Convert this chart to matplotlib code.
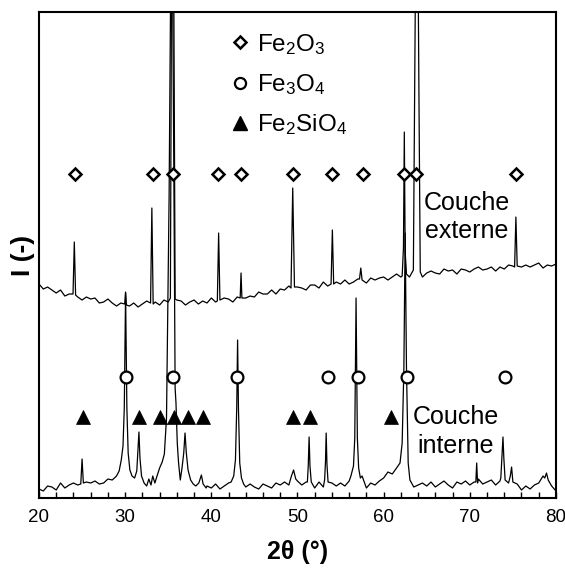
"""
XRD patterns of the two oxide layers (couche externe / couche interne).
Peak positions of Fe2O3, Fe3O4 and Fe2SiO4 are marked above the traces.
"""

import matplotlib

matplotlib.use("Agg")
import matplotlib.pyplot as plt
import numpy as np
from matplotlib.lines import Line2D
from matplotlib.ticker import MultipleLocator

plt.rcParams["font.family"] = ["Liberation Sans", "DejaVu Sans"]
plt.rcParams["mathtext.fontset"] = "custom"
plt.rcParams["mathtext.rm"] = "Liberation Sans"
plt.rcParams["mathtext.default"] = "regular"

# --- data (2theta in deg, intensity in arb. units) ---
grid_2theta = np.arange(20, 80.01, 0.5)

# background of the outer layer, one reading every 0.5 deg
ext_base = [
    214, 209, 211, 208, 205, 208, 202, 204, 205, 201,
    198, 201, 199, 200, 195, 196, 199, 195, 192, 195,
    195, 192, 195, 191, 194, 197, 194, 196, 193, 198,
    196, 194, 198, 197, 193, 196, 198, 194, 197, 195,
    200, 196, 196, 200, 199, 196, 201, 202, 200, 202,
    201, 206, 204, 204, 208, 204, 209, 208, 212, 207,
    211, 210, 208, 213, 213, 210, 216, 212, 214, 216,
    214, 218, 214, 216, 219, 216, 215, 220, 218, 220,
    221, 218, 221, 224, 221, 222, 221, 225, 225, 221,
    225, 227, 225, 224, 229, 227, 228, 224, 229, 228,
    226, 229, 231, 228, 229, 231, 227, 231, 229, 233,
    232, 228, 231, 233, 231, 233, 235, 230, 233, 232,
    234,
]

# peaks of the outer layer as (2theta, I) vertices
ext_peaks = [
    [(23.95, 204), (24.1, 256), (24.25, 203)],
    [(29.95, 194), (30.05, 206), (30.15, 193)],
    [(32.95, 195), (33.1, 290), (33.25, 194)],
    [(35.25, 200), (35.4, 560), (35.5, 700), (35.62, 560), (35.8, 199)],
    [(40.7, 197), (40.85, 265), (41.0, 198)],
    [(43.35, 200), (43.45, 225), (43.55, 200)],
    [(49.25, 210), (49.45, 310), (49.65, 211)],
    [(53.9, 214), (54.05, 268), (54.2, 214)],
    [(57.2, 219), (57.35, 230), (57.5, 218)],
    [(62.15, 222), (62.3, 250), (62.4, 366), (62.5, 245), (62.65, 224)],
    [(63.45, 228), (63.6, 400), (63.85, 720), (64.1, 400), (64.25, 226)],
    [(75.2, 231), (75.35, 281), (75.5, 232)],
]

# background of the inner layer, one reading every 0.5 deg
int_base = [
    9, 7, 12, 11, 8, 15, 10, 13, 15, 13,
    11, 16, 15, 17, 14, 15, 19, 18, 22, 26,
    30, 22, 20, 18, 15, 14, 16, 18, 22, 30,
    40, 30, 25, 20, 18, 16, 14, 12, 13, 12,
    10, 14, 9, 12, 15, 16, 20, 16, 11, 14,
    11, 9, 14, 12, 10, 15, 13, 16, 13, 20,
    17, 13, 16, 12, 10, 16, 11, 14, 15, 12,
    15, 12, 17, 25, 30, 22, 10, 15, 13, 17,
    20, 26, 24, 30, 33, 30, 18, 11, 13, 15,
    12, 16, 11, 14, 17, 13, 10, 16, 14, 17,
    13, 16, 19, 14, 16, 18, 13, 17, 20, 15,
    11, 14, 8, 12, 9, 13, 15, 22, 23, 12,
    7,
]

# peaks of the inner layer as (2theta, I) vertices
int_peaks = [
    [(24.85, 14), (25.0, 39), (25.15, 15)],
    [(29.0, 22), (29.3, 27), (29.55, 38), (29.75, 52), (29.9, 90), (30.05, 205),
     (30.2, 90), (30.35, 45), (30.55, 28), (30.8, 22), (31.1, 20), (31.35, 27),
     (31.5, 50), (31.6, 66), (31.72, 40), (31.9, 22), (32.2, 15), (32.5, 12),
     (32.75, 19), (33.0, 13), (33.2, 22), (33.45, 15), (33.7, 22), (34.0, 30),
     (34.3, 36), (34.55, 44), (34.8, 80), (35.1, 300), (35.4, 650), (35.65, 330),
     (35.8, 110), (35.9, 95), (36.05, 55), (36.2, 35), (36.4, 18), (36.6, 30),
     (36.8, 45), (36.95, 65), (37.1, 45), (37.3, 28), (37.6, 18), (37.9, 14),
     (38.2, 12), (38.55, 15), (38.85, 23), (39.05, 14), (39.4, 10)],
    [(42.3, 16), (42.6, 22), (42.8, 38), (42.95, 90), (43.05, 158), (43.15, 90),
     (43.3, 35), (43.5, 20), (43.75, 14)],
    [(49.3, 22), (49.55, 28), (49.8, 19)],
    [(51.15, 16), (51.25, 32), (51.35, 61), (51.45, 32), (51.6, 16)],
    [(53.15, 18), (53.25, 36), (53.33, 65), (53.42, 34), (53.55, 16)],
    [(56.2, 22), (56.5, 32), (56.65, 60), (56.8, 200), (56.95, 60), (57.1, 30), (57.3, 20)],
    [(61.9, 35), (62.15, 55), (62.35, 130), (62.5, 265), (62.65, 130), (62.85, 35), (63.05, 18)],
    [(70.7, 16), (70.8, 35), (70.9, 15)],
    [(73.6, 20), (73.75, 45), (73.85, 61), (73.95, 40), (74.1, 18)],
    [(74.7, 22), (74.85, 31), (75.0, 16)],
    [(78.7, 20), (78.9, 25), (79.1, 18)],
]

# reference peak positions of each phase
fe2o3_pos = [24.2, 33.2, 35.5, 40.8, 43.5, 49.5, 54.0, 57.6, 62.4, 63.8, 75.4]
fe3o4_pos = [30.1, 35.5, 43.0, 53.6, 57.0, 62.7, 74.1]
fe2sio4_pos = [25.1, 31.6, 34.0, 35.7, 37.3, 39.0, 49.5, 51.4, 60.9]

# heights at which the phase markers are drawn
FE2O3_LEVEL = 324
FE3O4_LEVEL = 121
FE2SIO4_LEVEL = 81


def build_trace(base, peaks):
    """Merge background readings with peak vertices into one polyline."""
    x = grid_2theta
    y = np.asarray(base, dtype=float)
    keep = np.ones_like(x, dtype=bool)
    px, py = [], []
    for pk in peaks:
        xs, ys = zip(*pk)
        keep &= (x < min(xs)) | (x > max(xs))
        px.extend(xs)
        py.extend(ys)
    tx = np.concatenate([x[keep], px])
    ty = np.concatenate([y[keep], py])
    order = np.argsort(tx)
    return tx[order], ty[order]


ext_x, ext_y = build_trace(ext_base, ext_peaks)
int_x, int_y = build_trace(int_base, int_peaks)

fig = plt.figure(figsize=(5.65, 5.70), dpi=100)
ax = fig.add_axes([0.069, 0.1263, 0.915, 0.8526])

ax.plot(int_x, int_y, color="black", lw=0.9, zorder=2)
ax.plot(ext_x, ext_y, color="black", lw=0.9, zorder=2)

ax.plot(fe2o3_pos, [FE2O3_LEVEL] * len(fe2o3_pos), ls="none", marker="D", ms=6,
        mfc="white", mec="black", mew=1.8, zorder=3)
ax.plot(fe3o4_pos, [FE3O4_LEVEL] * len(fe3o4_pos), ls="none", marker="o", ms=8.5,
        mfc="white", mec="black", mew=1.6, zorder=3)
ax.plot(fe2sio4_pos, [FE2SIO4_LEVEL] * len(fe2sio4_pos), ls="none", marker="^", ms=10,
        mfc="black", mec="black", mew=0.5, zorder=3)

# layer labels
ax.text(69.67, 288, "Couche", ha="center", va="baseline", fontsize=18)
ax.text(69.67, 260, "externe", ha="center", va="baseline", fontsize=18)
ax.text(68.37, 74, "Couche", ha="center", va="baseline", fontsize=18)
ax.text(68.37, 45, "interne", ha="center", va="baseline", fontsize=18)

handles = [
    Line2D([], [], ls="none", marker="D", ms=6, mfc="white", mec="black", mew=1.8,
           label="Fe$_2$O$_3$"),
    Line2D([], [], ls="none", marker="o", ms=8, mfc="white", mec="black", mew=1.6,
           label="Fe$_3$O$_4$"),
    Line2D([], [], ls="none", marker="^", ms=9.5, mfc="black", mec="black",
           label="Fe$_2$SiO$_4$"),
]
ax.legend(handles=handles, loc="upper left", bbox_to_anchor=(0.365, 0.959),
          frameon=False, fontsize=17.5, handlelength=1.0, handletextpad=0.2,
          labelspacing=0.63, borderpad=0, borderaxespad=0)

ax.set_xlim(20, 80)
ax.set_ylim(0, 486)
ax.set_xticks(range(20, 81, 10))
ax.xaxis.set_minor_locator(MultipleLocator(2))
ax.set_yticks([])
ax.tick_params(axis="x", which="both", direction="in", length=4, width=1,
               labelsize=13.5, pad=8, colors="black")
for spine in ax.spines.values():
    spine.set_linewidth(1.5)

ax.set_xlabel("2θ (°)", fontsize=18, fontweight="bold", labelpad=10)
ax.set_ylabel("I (-)", fontsize=19, fontweight="bold", labelpad=3)

fig.savefig("out.png", dpi=100)
plt.close(fig)
